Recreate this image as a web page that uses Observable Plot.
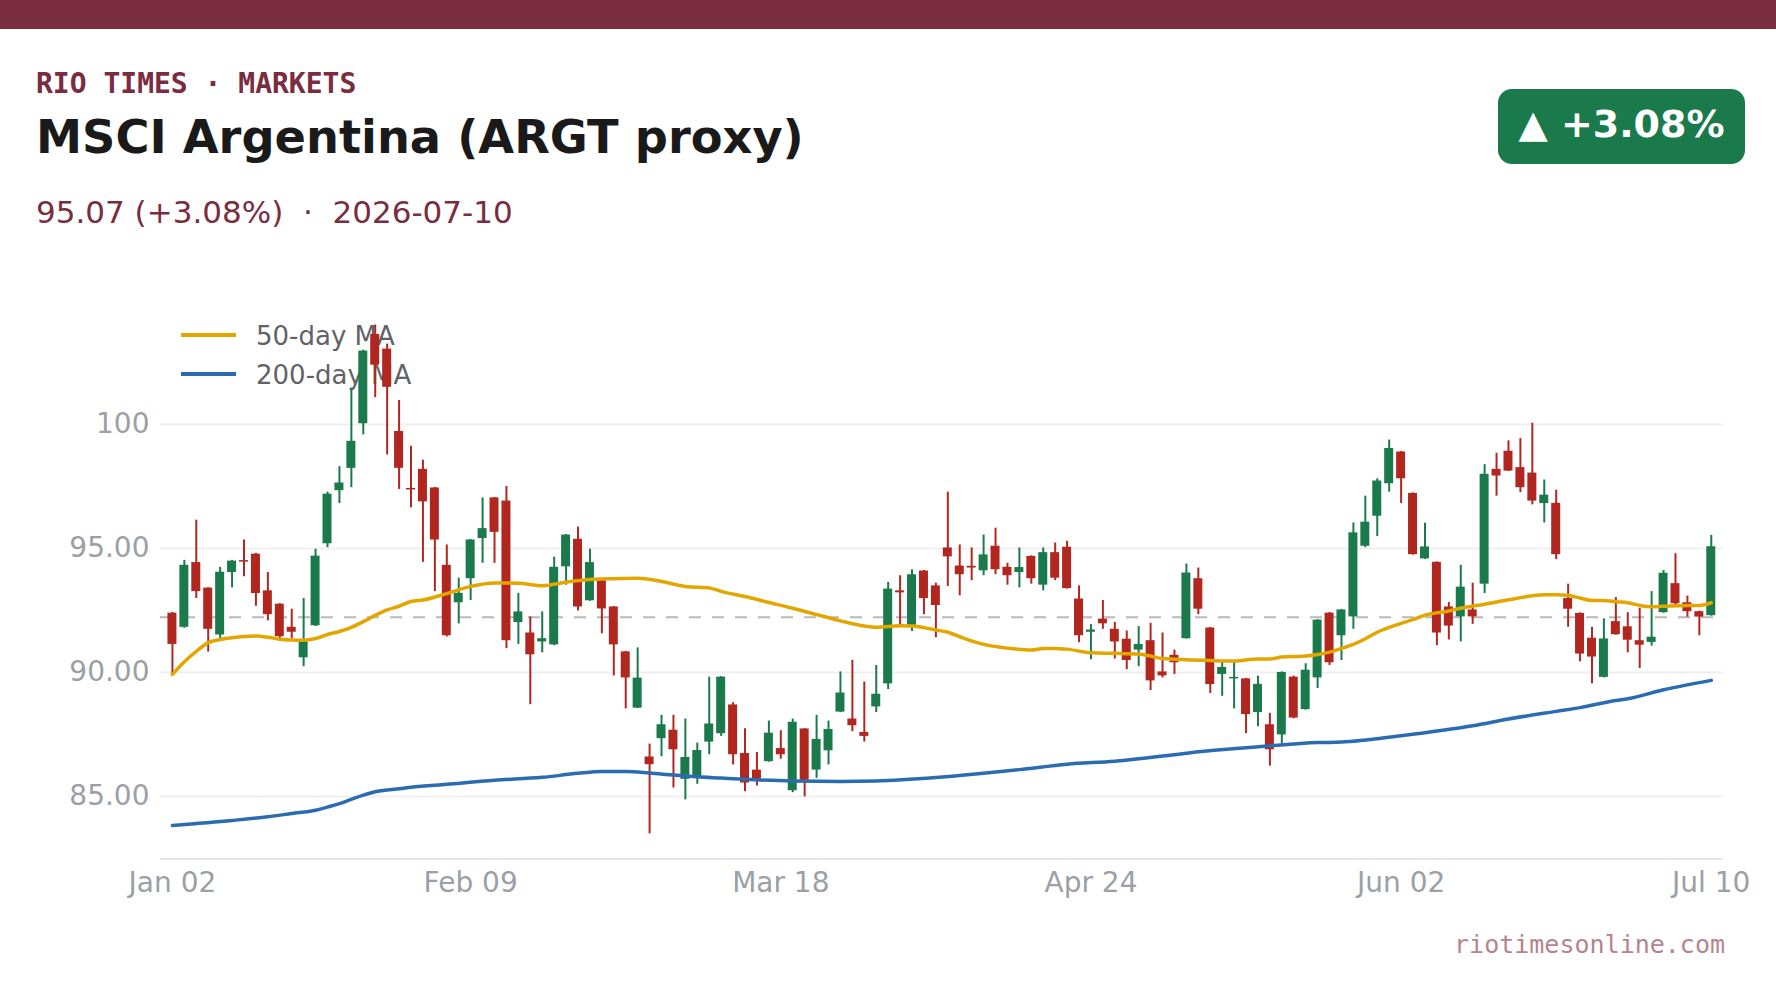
<!DOCTYPE html>
<html>
<head>
<meta charset="utf-8">
<script src="https://cdn.jsdelivr.net/npm/d3@7"></script>
<script src="https://cdn.jsdelivr.net/npm/@observablehq/plot@0.6"></script>
<style>
  html, body { margin: 0; padding: 0; background: #ffffff; overflow: hidden; }
  #page { position: relative; width: 1776px; height: 999px; overflow: hidden; font-family: "DejaVu Sans", sans-serif; background: #fff; }
  #bar { position: absolute; left: 0; top: 0; width: 1776px; height: 29px; background: #7a2c40; }
  #kicker { position: absolute; left: 36px; top: 70px; font: bold 28px/28px "DejaVu Sans Mono", monospace; color: #7a2c40; white-space: pre; }
  #title { position: absolute; left: 36px; top: 114px; font: bold 46.3px/46px "DejaVu Sans", sans-serif; color: #1a1a1a; white-space: pre; }
  #subtitle { position: absolute; left: 36px; top: 197px; font: 31px/31px "DejaVu Sans", sans-serif; color: #7a2c40; white-space: pre; }
  #badge { position: absolute; left: 1498px; top: 89px; width: 247px; height: 69px; padding-bottom: 6px; border-radius: 14px; background: #1b7a4c; color: #fff; font: bold 38px "DejaVu Sans", sans-serif; display: flex; align-items: center; justify-content: center; white-space: pre; }
  #legend { position: absolute; left: 0; top: 0; z-index: 0; }
  .lg-line { position: absolute; left: 181px; width: 55px; height: 4px; }
  .lg-text { position: absolute; left: 256px; font: 26px/26px "DejaVu Sans", sans-serif; color: #5f6368; white-space: pre; }
  #chart { position: absolute; left: 0; top: 250px; z-index: 1; }
  #chart svg { background: transparent; overflow: visible; }
  #footer { position: absolute; right: 51px; top: 932px; font: 25px/25px "DejaVu Sans Mono", monospace; color: #b4848f; white-space: pre; }
</style>
</head>
<body>
<div id="page">
  <div id="bar"></div>
  <div id="kicker">RIO TIMES · MARKETS</div>
  <div id="title">MSCI Argentina (ARGT proxy)</div>
  <div id="subtitle"></div>
  <div id="badge"></div>
  <div id="legend"></div>
  <div id="chart"></div>
  <div id="footer">riotimesonline.com</div>
</div>
<script>
// ---- Data ----
const open = [92.39,91.82,94.43,93.40,91.51,94.03,94.51,94.77,93.29,92.75,91.82,90.59,91.88,95.19,97.33,98.23,100.03,103.63,103.04,99.72,
97.42,98.19,97.44,94.32,92.81,93.78,95.40,97.04,96.91,92.01,91.59,91.23,91.11,94.26,95.37,92.89,93.70,92.64,90.83,88.56,
86.59,87.33,87.67,85.69,85.80,87.19,87.53,88.69,86.73,86.06,86.40,86.93,85.23,87.72,86.06,86.84,88.40,88.12,87.58,88.61,
89.54,93.29,91.90,94.09,93.49,95.02,94.29,94.28,94.10,95.09,94.24,94.03,94.68,93.52,94.83,95.05,92.96,91.62,92.15,91.74,
91.34,90.90,91.28,90.02,90.69,91.36,93.78,91.79,89.92,89.74,89.74,88.38,87.89,87.48,89.81,88.50,89.78,92.39,91.48,92.24,
95.09,96.30,97.61,98.89,97.22,94.58,94.44,92.64,92.24,92.52,93.56,98.19,98.92,98.26,98.04,96.81,96.82,92.98,92.38,91.38,
89.80,92.05,91.84,91.28,91.21,92.41,93.58,92.81,92.45,92.29];
const high = [92.42,94.52,96.14,93.42,94.24,94.52,95.34,94.80,94.03,92.77,92.55,92.98,94.97,97.27,98.30,101.47,103.00,104.01,103.24,100.97,
99.12,98.56,97.46,95.14,93.80,95.36,97.04,97.06,97.50,93.19,92.24,92.44,94.65,95.56,95.86,94.97,93.72,92.66,90.85,90.99,
87.11,88.27,88.27,88.12,87.15,89.81,89.83,88.78,87.73,86.77,88.04,87.65,88.12,87.74,88.27,88.04,90.02,90.49,89.61,90.28,
93.63,93.90,94.14,94.11,93.60,97.27,95.14,95.02,95.54,95.82,94.40,95.02,94.70,95.02,95.22,95.29,93.49,91.93,92.90,92.02,
91.67,91.85,91.98,91.59,90.90,94.37,94.21,91.81,90.45,90.45,89.76,89.85,88.35,90.02,89.85,90.35,92.13,92.42,92.54,96.03,
97.11,97.81,99.37,98.91,97.24,96.02,94.46,92.82,94.32,93.60,98.38,98.84,99.34,99.43,100.05,97.76,97.35,93.56,92.40,91.82,
92.16,93.02,92.41,92.59,93.26,94.11,94.79,93.08,92.47,95.53];
const low = [89.92,91.78,92.98,90.82,91.36,93.41,93.86,92.67,92.08,91.36,91.36,90.23,91.85,95.03,96.81,97.45,99.58,101.08,98.77,97.38,
96.64,94.44,93.26,91.43,91.96,92.90,94.40,94.40,90.96,91.13,88.70,90.79,91.08,93.52,92.48,92.87,91.56,89.86,88.53,88.54,
83.49,86.60,85.34,84.86,85.49,86.68,87.42,86.27,85.19,85.42,86.38,86.50,85.15,84.98,85.73,86.27,88.38,87.61,87.19,88.38,
89.31,91.93,91.65,92.33,91.40,93.47,93.09,93.70,93.90,93.94,93.52,93.41,93.56,93.29,93.70,93.36,91.20,90.51,91.74,90.54,
90.11,90.23,89.27,89.78,89.92,91.34,92.33,89.15,89.04,88.53,87.53,87.81,86.22,87.11,88.13,88.48,89.35,90.28,90.48,91.74,
95.03,95.48,97.27,96.81,94.73,94.56,91.08,91.31,91.23,91.94,93.18,97.11,98.10,97.25,96.76,96.03,94.55,91.82,90.43,89.54,
89.78,91.50,90.79,90.16,91.06,92.39,92.68,92.23,91.48,92.27];
const close = [91.13,94.32,93.26,91.74,94.04,94.49,94.45,93.18,92.33,91.44,91.62,91.23,94.69,97.19,97.64,99.32,102.96,102.39,101.50,98.23,
97.36,96.88,95.34,91.48,93.19,95.34,95.80,95.65,91.28,92.44,90.71,91.36,94.24,95.54,92.64,94.43,92.56,91.11,89.78,89.77,
86.28,87.89,86.88,86.57,86.85,87.92,89.81,86.68,85.54,85.69,87.55,86.68,87.99,85.65,87.30,87.70,89.17,87.85,87.42,89.12,
93.36,93.21,93.94,92.98,92.70,94.66,93.94,94.21,94.74,94.14,93.90,94.23,93.78,94.83,93.80,93.38,91.48,91.71,91.96,91.23,
90.48,91.13,89.66,89.86,90.39,94.01,92.55,89.51,90.20,89.80,88.30,89.52,86.88,90.00,88.16,90.09,92.11,90.39,92.52,95.63,
96.06,97.72,99.03,97.81,94.75,95.06,91.59,91.87,93.44,92.24,97.99,97.92,98.12,97.45,96.91,97.15,94.75,92.55,90.74,90.62,
91.35,91.52,91.30,91.10,91.42,94.00,92.77,92.45,92.23,95.07];

// moving averages, read at trading-day indices
const ma50Idx = [0,1,2,3,4,5,6,7,8,9,10,11,12,13,14,15,16,17,18,19,20,21,23,25,27,29,31,33,35,37,39,41,43,45,46,48,50,52,54,56,58,59,61,62,64,65,66,68,70,72,73,74,75,77,79,81,82,83,85,87,89,91,92,93,95,96,97,98,99,100,101,103,104,105,107,108,110,112,114,115,116,117,118,119,120,121,122,123,124,125,127,128,129];
const ma50Val = [89.92,90.43,90.85,91.20,91.33,91.40,91.45,91.47,91.42,91.34,91.31,91.30,91.37,91.53,91.65,91.82,92.05,92.30,92.52,92.67,92.86,92.92,93.18,93.47,93.61,93.60,93.50,93.64,93.75,93.78,93.80,93.67,93.47,93.41,93.27,93.06,92.82,92.59,92.33,92.08,91.87,91.82,91.88,91.87,91.71,91.62,91.44,91.13,90.98,90.90,90.97,90.97,90.94,90.79,90.77,90.74,90.66,90.56,90.51,90.48,90.46,90.54,90.54,90.62,90.66,90.72,90.82,90.97,91.13,91.36,91.62,91.98,92.13,92.31,92.48,92.59,92.75,92.93,93.09,93.13,93.13,93.10,93.00,92.90,92.90,92.85,92.81,92.70,92.65,92.67,92.70,92.70,92.81];
const ma200Idx = [0,5,8,10,12,13,14,15,16,17,18,19,20,23,27,31,34,36,38,40,42,44,46,48,52,56,59,64,68,71,75,79,84,86,90,92,96,98,103,109,112,116,118,121,122,125,129];
const ma200Val = [83.83,84.03,84.18,84.31,84.44,84.57,84.71,84.88,85.05,85.19,85.26,85.31,85.37,85.49,85.65,85.77,85.93,86.00,86.00,85.94,85.86,85.79,85.74,85.69,85.62,85.60,85.62,85.76,85.93,86.08,86.30,86.42,86.68,86.80,86.96,87.04,87.17,87.19,87.45,87.85,88.12,88.43,88.58,88.87,88.94,89.30,89.68];

const tickIndex = [0, 25, 51, 77, 103, 129];
const tickLabels = ["Jan 02", "Feb 09", "Mar 18", "Apr 24", "Jun 02", "Jul 10"];
const yTicks = [85, 90, 95, 100];
const yTickLabels = ["85.00", "90.00", "95.00", "100"];
const prevClose = 92.23;
const lastClose = 95.07;
const changePct = "+3.08%";
const lastDate = "2026-07-10";
const yDomain = [82.48, 105.04];

// ---- Header texts ----
document.getElementById("subtitle").textContent = `${lastClose.toFixed(2)} (${changePct})  ·  ${lastDate}`;
document.getElementById("badge").textContent = `▲ ${changePct}`;

const GREEN = "#1b7a4c", RED = "#b22620", GOLD = "#e3a600", BLUE = "#2b6cb0";

// legend (HTML, behind the chart)
const legend = document.getElementById("legend");
[["50-day MA", GOLD, 333], ["200-day MA", BLUE, 372]].forEach(([label, color, y]) => {
  const ln = document.createElement("div");
  ln.className = "lg-line"; ln.style.top = y + "px"; ln.style.background = color;
  legend.appendChild(ln);
  const tx = document.createElement("div");
  tx.className = "lg-text"; tx.style.top = (y - 10) + "px"; tx.textContent = label;
  legend.appendChild(tx);
});

// ---- Chart ----
const candles = open.map((o, i) => ({i, open: o, high: high[i], low: low[i], close: close[i]}));
const ma50 = ma50Idx.map((i, k) => ({i, v: ma50Val[k]}));
const ma200 = ma200Idx.map((i, k) => ({i, v: ma200Val[k]}));
const col = d => d.close >= d.open ? GREEN : RED;
const halfBody = 0.377;

const chart = Plot.plot({
  width: 1776,
  height: 660,
  marginTop: 49,
  marginBottom: 51.6,
  marginLeft: 160,
  marginRight: 53.3,
  x: {domain: [-1, 130], axis: null},
  y: {domain: yDomain, axis: null},
  style: {fontFamily: "DejaVu Sans, sans-serif", fontSize: "28px", color: "#9aa0a6", background: "transparent", overflow: "visible"},
  marks: [
    Plot.gridY(yTicks, {stroke: "#efefef", strokeOpacity: 1, strokeWidth: 2}),
    Plot.ruleY([yDomain[0]], {stroke: "#e4e5e8", strokeWidth: 2}),
    Plot.ruleY([prevClose], {stroke: "#b9b9b9", strokeWidth: 2, strokeDasharray: "12,11"}),
    Plot.ruleX(candles, {x: "i", y1: "low", y2: "high", stroke: col, strokeWidth: 2}),
    Plot.rect(candles, {x1: d => d.i - halfBody, x2: d => d.i + halfBody, y1: "open", y2: "close", fill: col}),
    Plot.line(ma200, {x: "i", y: "v", stroke: BLUE, strokeWidth: 3.5, curve: "monotone-x"}),
    Plot.line(ma50, {x: "i", y: "v", stroke: GOLD, strokeWidth: 3.5, curve: "monotone-x"}),
    Plot.axisY(yTicks, {label: null, tickSize: 0, tickPadding: 11, tickFormat: d => yTickLabels[yTicks.indexOf(d)], fill: "#9aa0a6", fontSize: 28}),
    Plot.axisX(tickIndex, {label: null, tickSize: 0, tickPadding: 13, tickFormat: d => tickLabels[tickIndex.indexOf(d)], fill: "#9aa0a6", fontSize: 28})
  ]
});
document.getElementById("chart").appendChild(chart);
</script>
</body>
</html>
